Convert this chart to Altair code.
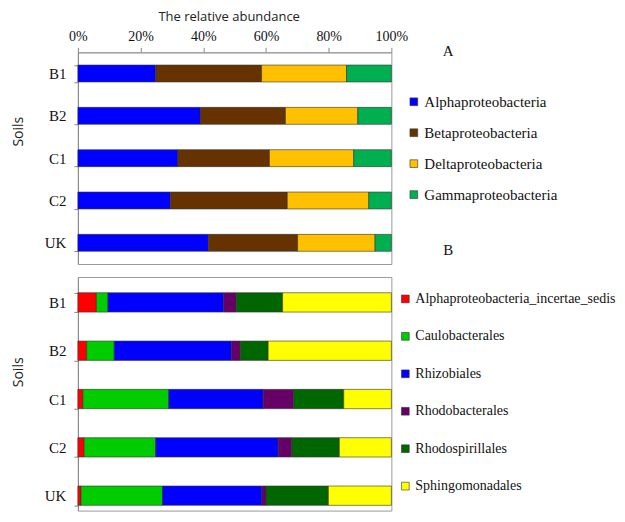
import altair as alt
import pandas as pd

soils = ["B1", "B2", "C1", "C2", "UK"]

# Panel A: classes
classes = ["Alphaproteobacteria", "Betaproteobacteria", "Deltaproteobacteria", "Gammaproteobacteria"]
class_colors = ["#0000FF", "#663300", "#FFC000", "#00B050"]
alpha = [24.8, 39.1, 31.9, 29.5, 41.6]
beta = [33.8, 27.1, 29.2, 37.3, 28.5]
delta = [27.1, 23.1, 26.9, 26.0, 24.7]
gamma = [14.3, 10.7, 12.0, 7.2, 5.2]

# Panel B: orders of Alphaproteobacteria
orders = ["Alphaproteobacteria_incertae_sedis", "Caulobacterales", "Rhizobiales",
          "Rhodobacterales", "Rhodospirillales", "Sphingomonadales"]
order_colors = ["#FF0000", "#00CC00", "#0000FF", "#660066", "#006600", "#FFFF00"]
incertae = [5.9, 2.8, 1.6, 2.0, 1.0]
caulo = [3.7, 8.8, 27.4, 22.8, 26.0]
rhizo = [36.9, 37.4, 30.1, 39.1, 31.7]
rhodob = [4.0, 2.8, 9.7, 4.3, 1.3]
rhodos = [14.8, 8.9, 16.0, 15.2, 19.9]
sphingo = [34.7, 39.3, 15.2, 16.6, 20.1]

panel_labels = ["A", "B"]


def long_df(names, series):
    rows = []
    for i, (n, vals) in enumerate(zip(names, series)):
        for s, v in zip(soils, vals):
            rows.append({"soil": s, "taxon": n, "value": v, "idx": i})
    return pd.DataFrame(rows)


df_a = long_df(classes, [alpha, beta, delta, gamma])
df_b = long_df(orders, [incertae, caulo, rhizo, rhodob, rhodos, sphingo])

serif = "Liberation Serif"
sans = "Open Sans"


def y_axis(title_y):
    return alt.Axis(title="Soils", titleFont=sans, titleFontSize=14, titleFontWeight="normal",
                    titleColor="#222", titlePadding=19, titleY=title_y,
                    labelFont=serif, labelFontSize=15, labelColor="#111", labelPadding=8,
                    tickBand="extent", tickSize=4, tickColor="#888",
                    domainColor="#888", grid=False)


bars_a = alt.Chart(df_a).mark_bar(stroke="#333", strokeWidth=0.6).encode(
    x=alt.X("value:Q", stack="normalize", scale=alt.Scale(domain=[0, 1]),
            axis=alt.Axis(orient="top", format="%", values=[0, 0.2, 0.4, 0.6, 0.8, 1],
                          title="The relative abundance", titleFont=sans, titleFontSize=13,
                          titleFontWeight="normal", titleColor="#222", titlePadding=6,
                          titleX=151,
                          labelFont=serif, labelFontSize=14, labelColor="#111", labelPadding=4,
                          labelFlush=False,
                          tickSize=5, tickColor="#888", domainColor="#999", grid=False)),
    y=alt.Y("soil:N", sort=soils, scale=alt.Scale(paddingInner=0.6, paddingOuter=0.3), axis=y_axis(79)),
    color=alt.Color("taxon:N", sort=classes, scale=alt.Scale(domain=classes, range=class_colors),
                    legend=alt.Legend(title=None, orient="none", legendX=329, legendY=42,
                                      symbolType="square", symbolSize=60, symbolStrokeColor="#333",
                                      symbolStrokeWidth=0.6, labelFont=serif, labelFontSize=15,
                                      labelColor="#111", labelOffset=3, rowPadding=15,
                                      labelLimit=300, padding=0)),
    order=alt.Order("idx:Q"),
)

lab_df = pd.DataFrame({"t": panel_labels})
text_a = alt.Chart(lab_df).transform_filter(alt.datum.t == "A").mark_text(
    font=serif, fontSize=15, color="#111").encode(
    text="t:N", x=alt.value(371), y=alt.value(-1))
text_b = alt.Chart(lab_df).transform_filter(alt.datum.t == "B").mark_text(
    font=serif, fontSize=15, color="#111").encode(
    text="t:N", x=alt.value(371), y=alt.value(198))

top = alt.layer(bars_a, text_a, text_b).properties(width=314, height=212)

bars_b = alt.Chart(df_b).mark_bar(stroke="#333", strokeWidth=0.6).encode(
    x=alt.X("value:Q", stack="normalize", scale=alt.Scale(domain=[0, 1]), axis=None),
    y=alt.Y("soil:N", sort=soils,
            scale=alt.Scale(paddingInner=0.6, paddingOuter=0.2175, align=0.75),
            axis=y_axis(95)),
    color=alt.Color("taxon:N", sort=orders, scale=alt.Scale(domain=orders, range=order_colors),
                    legend=alt.Legend(title=None, orient="none", legendX=321, legendY=15,
                                      symbolType="square", symbolSize=60, symbolStrokeColor="#333",
                                      symbolStrokeWidth=0.6, labelFont=serif, labelFontSize=14,
                                      labelColor="#111", labelOffset=3, rowPadding=23.5,
                                      labelLimit=300, padding=0)),
    order=alt.Order("idx:Q"),
)

bottom = bars_b.properties(width=314, height=234)

chart = alt.vconcat(top, bottom, spacing=4).resolve_scale(color="independent").properties(
    padding={"left": 2, "top": 1, "right": 0, "bottom": 1}
).configure_view(stroke="#999", strokeWidth=1)

chart.save("out.html", embed_options={"renderer": "svg", "actions": False})
